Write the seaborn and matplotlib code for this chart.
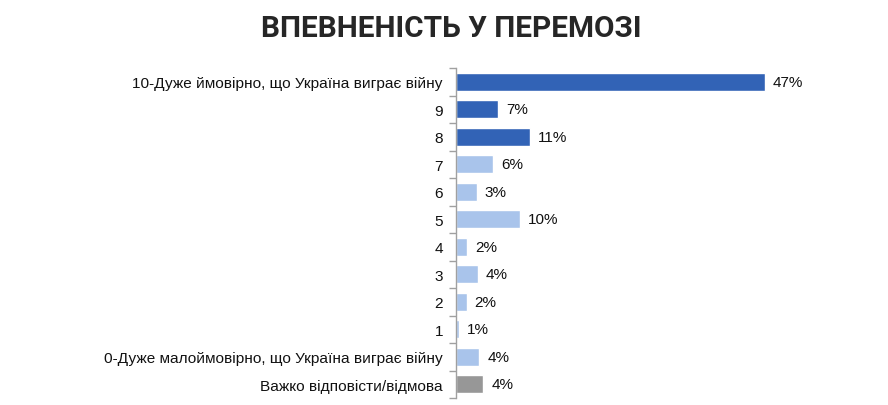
import matplotlib
matplotlib.use("Agg")
import matplotlib.pyplot as plt
import seaborn as sns
import pandas as pd

categories = [
    "10-Дуже ймовірно, що Україна виграє війну",
    "9", "8", "7", "6", "5", "4", "3", "2", "1",
    "0-Дуже малоймовірно, що Україна виграє війну",
    "Важко відповісти/відмова",
]
values = [47.0, 6.5, 11.3, 5.7, 3.2, 9.8, 1.8, 3.4, 1.7, 0.5, 3.6, 4.2]
value_labels = ["47%", "7%", "11%", "6%", "3%", "10%", "2%", "4%", "2%", "1%", "4%", "4%"]
title = "ВПЕВНЕНІСТЬ У ПЕРЕМОЗІ"

dark_blue = "#3263B6"
light_blue = "#A9C4EB"
gray = "#979797"
colors = [dark_blue] * 3 + [light_blue] * 8 + [gray]

sns.set_theme(style="white")
plt.rcParams["font.family"] = ["Liberation Sans", "DejaVu Sans"]

df = pd.DataFrame({"category": categories, "value": values})

fig = plt.figure(figsize=(8.88, 4.06), dpi=100)
ax = fig.add_axes([455.5 / 888, 1 - 399 / 406, (850.6 - 455.5) / 888, (399 - 69) / 406])

sns.barplot(data=df, x="value", y="category", hue="category", palette=colors,
            legend=False, width=0.67, ax=ax, orient="h", saturation=1)

ax.set_xlim(0, 60)
ax.set_ylim(len(categories) - 0.5, -0.5)
ax.set_xlabel("")
ax.set_ylabel("")
ax.set_xticks([])

for spine in ["top", "right", "bottom"]:
    ax.spines[spine].set_visible(False)
ax.spines["left"].set_color("#a0a0a0")
ax.spines["left"].set_linewidth(1.0)

ax.set_yticks(range(len(categories)))
ax.set_yticklabels(categories, fontsize=11.1, color="#111111")
ax.tick_params(axis="y", which="major", length=0, pad=9)
ax.set_yticks([i - 0.5 for i in range(len(categories) + 1)], minor=True)
ax.tick_params(axis="y", which="minor", length=5, width=1.0, color="#a0a0a0", left=True)

for i, (v, lab) in enumerate(zip(values, value_labels)):
    ax.annotate(lab, xy=(v, i), xytext=(8, 0), textcoords="offset pixels",
                ha="left", va="center", fontsize=11, color="#111111")

fig.text(451 / 888, 1 - 29 / 406, title, ha="center", va="center",
         fontsize=21.4, fontweight="bold", color="#262626",
         family=["Roboto", "DejaVu Sans"])

fig.savefig("out.png", dpi=100)
